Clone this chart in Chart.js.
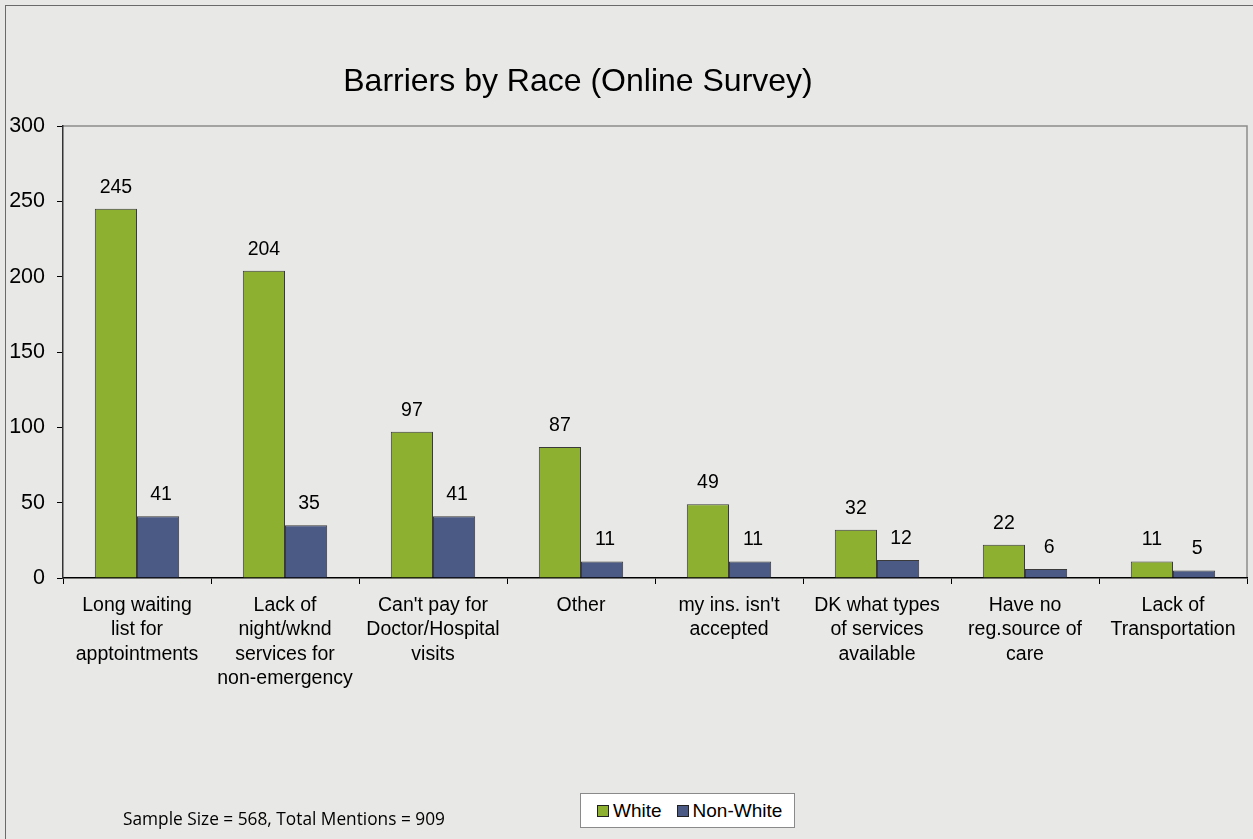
<!DOCTYPE html>
<html>
<head>
<meta charset="utf-8">
<script src="https://cdn.jsdelivr.net/npm/chart.js@4.4.0/dist/chart.umd.min.js"></script>
<style>
  html, body { margin: 0; padding: 0; background: #e8e8e6; overflow: hidden; }
  body { width: 1253px; height: 839px; position: relative; font-family: "Liberation Sans", Arial, sans-serif; }
  #frame { position: absolute; left: 5px; top: 5px; width: 1300px; height: 900px; border: 1px solid #6a6a6a; }
  #wrap { position: absolute; left: 6px; top: 6px; width: 1247px; height: 833px; }
  #title { position: absolute; left: 578px; top: 80px; transform: translate(-50%, -50%); font-size: 32px; color: #000; white-space: nowrap; }
  #note { position: absolute; left: 123px; top: 807px; font-family: "Open Sans", sans-serif; font-size: 17.3px; color: #000; white-space: nowrap; }
  #legend { position: absolute; left: 580px; top: 793px; width: 213px; height: 33px; background: #fff; border: 1px solid #8a8a8a; font-size: 19px; display: flex; align-items: center; }
  .sw { display: inline-block; width: 10px; height: 10px; border: 1px solid #222; margin-right: 4px; }
  .item { display: inline-flex; align-items: center; }
</style>
</head>
<body>
<div id="frame"></div>
<div id="wrap"><canvas id="barChart"></canvas></div>
<div id="title">Barriers by Race (Online Survey)</div>
<div id="legend">
  <span class="item" style="margin-left:16px"><span class="sw" style="background:#8db030"></span>White</span>
  <span class="item" style="margin-left:15px"><span class="sw" style="background:#4b5a84"></span>Non-White</span>
</div>
<div id="note">Sample Size = 568, Total Mentions = 909</div>

<script>
// Chart data
const categories = [
    ["Long waiting", "list for", "apptointments"],
    ["Lack of", "night/wknd", "services for", "non-emergency"],
    ["Can't pay for", "Doctor/Hospital", "visits"],
    ["Other"],
    ["my ins. isn't", "accepted"],
    ["DK what types", "of services", "available"],
    ["Have no", "reg.source of", "care"],
    ["Lack of", "Transportation"]
];
const whiteValues = [245, 204, 97, 87, 49, 32, 22, 11];
const nonWhiteValues = [41, 35, 41, 11, 11, 12, 6, 5];
const yTicks = [0, 50, 100, 150, 200, 250, 300];

const FONT = "'Liberation Sans', Arial, sans-serif";

// Value labels above each bar + gray frame on top/right of plot
const barLabels = {
    id: "barLabels",
    beforeDraw(chart) {
        const a = chart.chartArea;
        const ctx = chart.ctx;
        ctx.save();
        ctx.strokeStyle = "#8c8c8c";
        ctx.lineWidth = 1.5;
        ctx.beginPath();
        ctx.moveTo(a.left, a.top);
        ctx.lineTo(a.right, a.top);
        ctx.lineTo(a.right, a.bottom);
        ctx.stroke();
        ctx.restore();
    },
    afterDatasetsDraw(chart) {
        const ctx = chart.ctx;
        ctx.save();
        ctx.font = "19.5px " + FONT;
        ctx.fillStyle = "#000";
        ctx.textAlign = "center";
        ctx.textBaseline = "alphabetic";
        chart.data.datasets.forEach(function (ds, i) {
            chart.getDatasetMeta(i).data.forEach(function (bar, j) {
                ctx.fillText(ds.data[j], bar.x + (i === 1 ? 3 : 0), bar.y - 16);
            });
        });
        ctx.restore();
    }
};

new Chart(document.getElementById("barChart"), {
    type: "bar",
    data: {
        labels: categories,
        datasets: [{
            label: "White",
            data: whiteValues,
            backgroundColor: "#8db030",
            borderColor: "#3a3a3a",
            borderWidth: 1,
            categoryPercentage: 0.57,
            barPercentage: 1.0
        }, {
            label: "Non-White",
            data: nonWhiteValues,
            backgroundColor: "#4b5a84",
            borderColor: "#3a3a3a",
            borderWidth: 1,
            categoryPercentage: 0.57,
            barPercentage: 1.0
        }]
    },
    options: {
        responsive: true,
        maintainAspectRatio: false,
        animation: false,
        layout: { padding: { left: 0, top: 120, right: 6, bottom: 0 } },
        plugins: {
            legend: { display: false },
            tooltip: { enabled: false },
            title: { display: false }
        },
        scales: {
            x: {
                grid: { drawOnChartArea: false, drawTicks: true, tickLength: 6, color: "#000", offset: true },
                border: { color: "#000", width: 1.5 },
                ticks: {
                    color: "#000",
                    font: { family: FONT, size: 19.5, lineHeight: 1.26 },
                    maxRotation: 0,
                    autoSkip: false,
                    padding: 9
                },
                afterFit: function (axis) { axis.height = 261; }
            },
            y: {
                min: 0,
                max: 300,
                afterBuildTicks: function (axis) { axis.ticks = yTicks.map(function (v) { return { value: v }; }); },
                grid: { drawOnChartArea: false, drawTicks: true, tickLength: 6, color: "#000" },
                border: { color: "#333", width: 1.5 },
                ticks: {
                    color: "#000",
                    font: { family: FONT, size: 21.5 },
                    padding: 12
                },
                afterFit: function (axis) { axis.width = 57; }
            }
        }
    },
    plugins: [barLabels]
});
</script>
</body>
</html>
